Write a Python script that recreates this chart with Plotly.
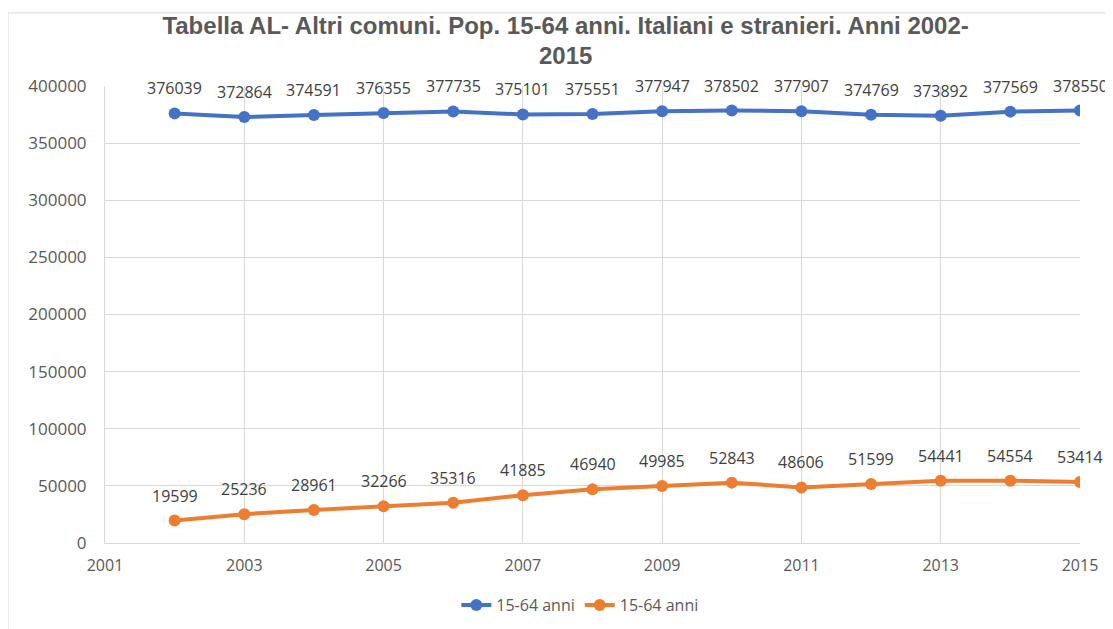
import plotly.graph_objects as go

# Years and values
years = list(range(2002, 2016))
totale = [376039, 372864, 374591, 376355, 377735, 375101, 375551,
          377947, 378502, 377907, 374769, 373892, 377569, 378550]
stranieri = [19599, 25236, 28961, 32266, 35316, 41885, 46940,
             49985, 52843, 48606, 51599, 54441, 54554, 53414]

series_names = ["15-64 anni", "15-64 anni"]
series_colors = ["#4472C4", "#ED7D31"]

title_line1 = "Tabella AL- Altri comuni. Pop. 15-64 anni. Italiani e stranieri. Anni 2002-"
title_line2 = "2015"

FONT = "Open Sans, Liberation Sans, sans-serif"
TFONT = "Liberation Sans, Arial, sans-serif"

fig = go.Figure()
for vals, name, col in zip([totale, stranieri], series_names, series_colors):
    fig.add_trace(go.Scatter(
        x=years, y=vals, name=name,
        mode="lines+markers",
        line=dict(color=col, width=4),
        marker=dict(color=col, size=12),
    ))
    # data labels above each point
    for x, v in zip(years, vals):
        fig.add_annotation(x=x, y=v, text=str(v), showarrow=False,
                           yshift=25, font=dict(family=FONT, size=16, color="#404040"))

# second line of the title (tighter line spacing than plotly's <br>)
fig.add_annotation(text="<b>%s</b>" % title_line2, xref="paper", yref="paper",
                   x=0.472, y=1.066, showarrow=False, xanchor="center", yanchor="middle",
                   font=dict(family=TFONT, size=24, color="#595959"))

fig.update_layout(
    width=1113, height=629,
    template="plotly_white",
    paper_bgcolor="white", plot_bgcolor="white",
    margin=dict(l=97, r=41, t=78, b=94),
    title=dict(
        text="<b>%s</b>" % title_line1,
        x=0.501, xanchor="center", y=0.972, yanchor="middle",
        font=dict(family=TFONT, size=24, color="#595959"),
    ),
    font=dict(family=FONT, color="#595959"),
    showlegend=True,
    legend=dict(orientation="h", x=0.487, xanchor="center", y=-0.1357, yanchor="middle",
                font=dict(family=FONT, size=16, color="#595959")),
    xaxis=dict(range=[2001, 2015], tick0=2001, dtick=2, showgrid=True,
               gridcolor="#D9D9D9", gridwidth=1, zeroline=False,
               showline=True, linecolor="#D9D9D9", automargin=False,
               tickfont=dict(family=FONT, size=16, color="#595959"),
               ticks="", ticklabelstandoff=8),
    yaxis=dict(range=[0, 400000], dtick=50000, showgrid=True,
               gridcolor="#D9D9D9", gridwidth=1, zeroline=False,
               showline=True, linecolor="#D9D9D9", automargin=False,
               tickformat="d",
               tickfont=dict(family=FONT, size=17, color="#595959"),
               ticks="", ticklabelstandoff=14),
    shapes=[dict(type="rect", xref="paper", yref="paper",
                 x0=-0.0995, x1=1.2, y0=-0.3, y1=1.16,
                 line=dict(color="#D9D9D9", width=1), layer="below")],
)

fig.write_html("out.html")
